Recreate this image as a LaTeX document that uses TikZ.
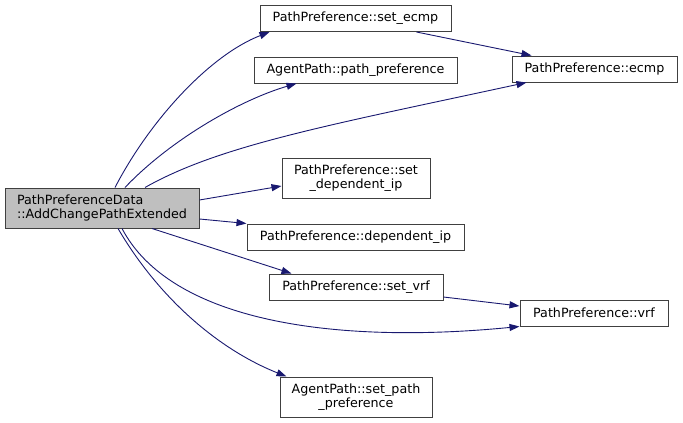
\documentclass[tikz,border=0pt]{standalone}
\usepackage{fontspec}
\setmainfont{DejaVu Sans}
\usetikzlibrary{arrows.meta,calc}
\definecolor{edgeblue}{RGB}{25,25,112}
\definecolor{boxgray}{RGB}{64,64,64}
\definecolor{mainfill}{RGB}{191,191,191}

\begin{document}
\begin{tikzpicture}[
    x=1pt, y=-1pt,
    fn/.style={draw=boxgray, line width=1pt, fill=white, inner sep=0pt,
               minimum height=26pt, align=center,
               font=\fontsize{12.7}{13.5}\selectfont},
    arr/.style={-{Triangle[length=10pt,width=7pt]}, draw=edgeblue, line width=0.9pt}
  ]
  \useasboundingbox (0,0) rectangle (683,423);
  % caller
  \node[fn, fill=mainfill, minimum width=194pt, minimum height=40pt, align=left] (main) at (102,208)
    {PathPreferenceData\\::AddChangePathExtended};
  % callees
  \node[fn, minimum width=191pt] (setecmp) at (355.5,18.5) {PathPreference::set\_ecmp};
  \node[fn, minimum width=203pt] (pathpref) at (355.5,70) {AgentPath::path\_preference};
  \node[fn, minimum width=165pt] (ecmp) at (594.5,69) {PathPreference::ecmp};
  \node[fn, minimum width=148pt, minimum height=40pt] (setdep) at (356,178)
    {PathPreference::set\\\_dependent\_ip};
  \node[fn, minimum width=217pt] (dep) at (355.5,237) {PathPreference::dependent\_ip};
  \node[fn, minimum width=174pt] (setvrf) at (356,287) {PathPreference::set\_vrf};
  \node[fn, minimum width=148pt] (vrf) at (594,313) {PathPreference::vrf};
  \node[fn, minimum width=152pt, minimum height=40pt] (setpath) at (356,397)
    {AgentPath::set\_path\\\_preference};

  \draw[arr] ($(main.north)+(13,0)$) .. controls (150,120) and (210,55) .. ($(setecmp.south west)+(10,0)$);
  \draw[arr] ($(main.north)+(23,0)$) .. controls (170,140) and (240,100) .. ($(pathpref.south west)+(43,0)$);
  \draw[arr] ($(main.north)+(43,0)$) .. controls (220,145) and (330,125) .. ($(ecmp.south west)+(15,0)$);
  \draw[arr] ($(main.east)+(0,-8)$) -- ($(setdep.west)+(0,8)$);
  \draw[arr] ($(main.east)+(0,11)$) -- (dep.north west);
  \draw[arr] ($(main.south)+(50,0)$) -- ($(setvrf.north west)+(23,0)$);
  \draw[arr] ($(main.south)+(20,0)$) .. controls (170,320) and (330,345) .. (vrf.south west);
  \draw[arr] ($(main.south)+(16,0)$) .. controls (160,300) and (220,350) .. ($(setpath.north west)+(7,0)$);
  \draw[arr] ($(setecmp.south)+(61,0)$) -- ($(ecmp.north west)+(20,0)$);
  \draw[arr] ($(setvrf.east)+(0,10)$) -- ($(vrf.west)+(0,-7)$);
\end{tikzpicture}
\end{document}
